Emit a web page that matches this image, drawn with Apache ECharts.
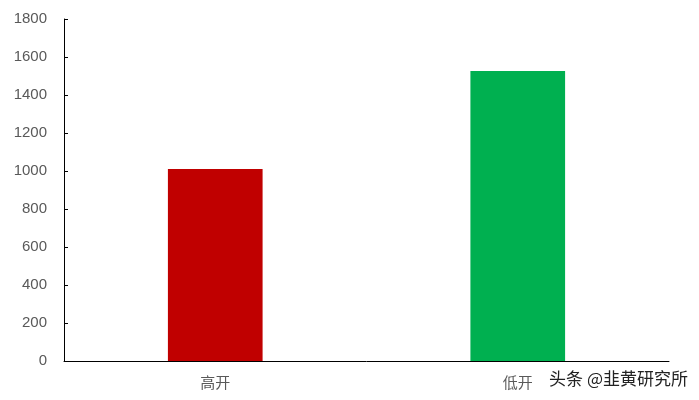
<!DOCTYPE html>
<html>
<head>
<meta charset="utf-8">
<script src="https://cdn.jsdelivr.net/npm/echarts@6/dist/echarts.min.js"></script>
<style>
html,body{margin:0;padding:0;background:#fff;}
#c{width:699px;height:400px;}
</style>
</head>
<body>
<div id="c"></div>
<script>
var categories = ['高开', '低开'];
var values = [1010, 1526];
var barColors = ['#C00000', '#00B050'];
var yMin = 0, yMax = 1800, yInterval = 200;

var chart = echarts.init(document.getElementById('c'), null, {renderer: 'canvas'});
chart.setOption({
  animation: false,
  backgroundColor: '#ffffff',
  grid: {left: 64, right: 30, top: 19, bottom: 39, containLabel: false},
  xAxis: {
    type: 'category',
    data: categories,
    axisLine: {lineStyle: {color: '#000000', width: 1}},
    axisTick: {show: false},
    axisLabel: {color: '#595959', fontSize: 15, fontFamily: 'Noto Sans CJK SC', margin: 14}
  },
  yAxis: {
    type: 'value',
    min: yMin, max: yMax, interval: yInterval,
    axisLine: {show: true, lineStyle: {color: '#000000', width: 1}},
    axisTick: {show: true, inside: true, length: 4, lineStyle: {color: '#000000'}},
    splitLine: {show: false},
    axisLabel: {color: '#595959', fontSize: 15, fontFamily: 'Liberation Sans', margin: 17,
      formatter: function (v) { return String(v); }}
  },
  series: [{
    type: 'bar',
    data: values.map(function (v, i) { return {value: v, itemStyle: {color: barColors[i]}}; }),
    barWidth: '31.3%'
  }],
  graphic: [{
    type: 'text',
    right: 11,
    top: 370,
    style: {text: '头条 @韭黄研究所', fill: '#222222', font: '17px "Noto Sans CJK SC"', letterSpacing: 1}
  }]
});
</script>
</body>
</html>
